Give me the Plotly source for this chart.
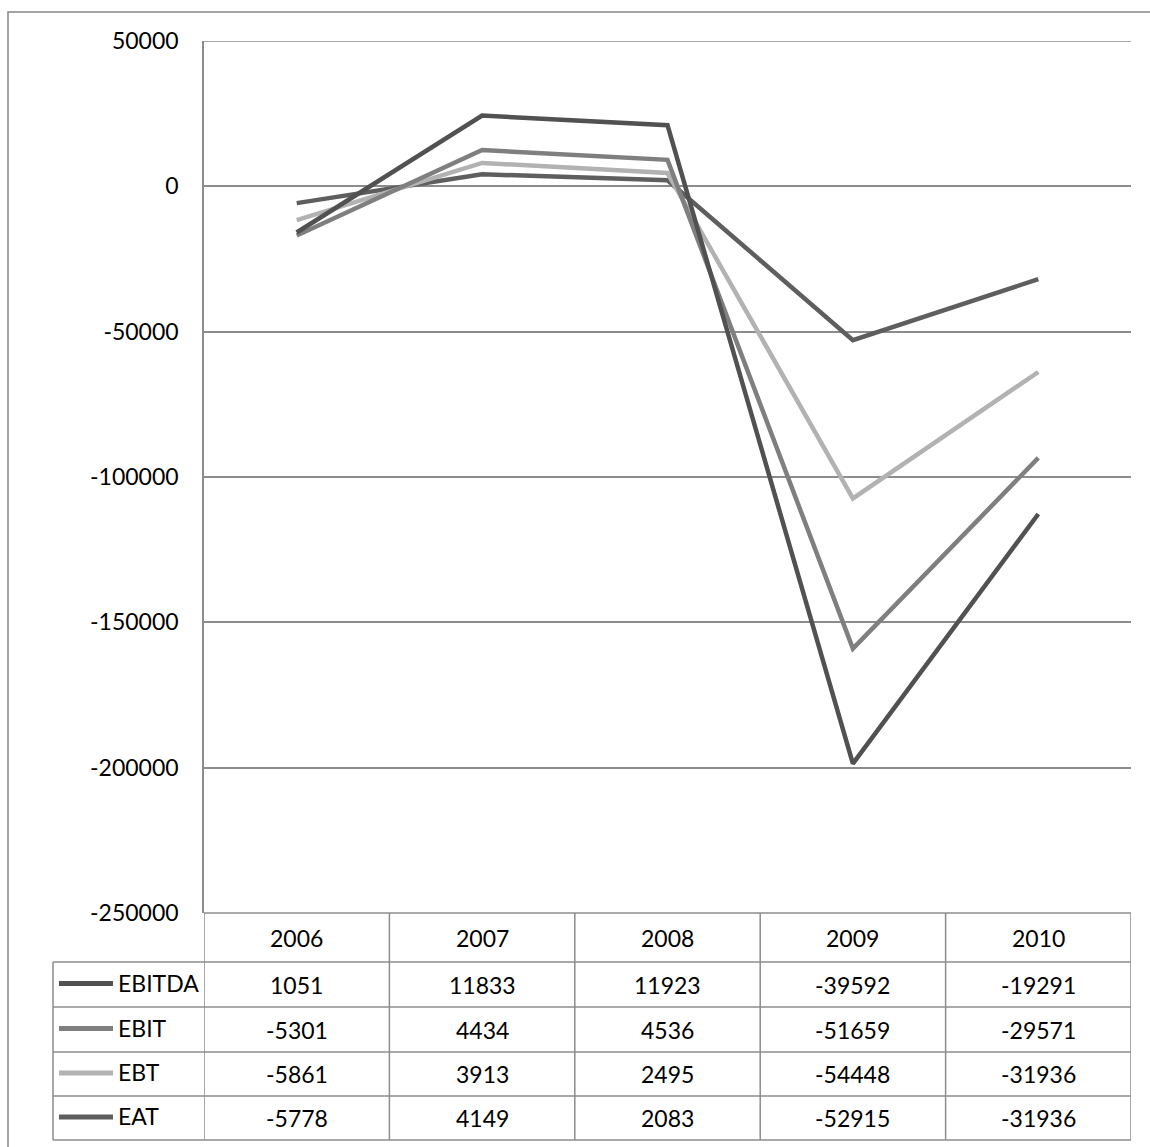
import plotly.graph_objects as go

W, H = 1150, 1147

years = ["2006", "2007", "2008", "2009", "2010"]
series_names = ["EBITDA", "EBIT", "EBT", "EAT"]
ebitda = [1051, 11833, 11923, -39592, -19291]
ebit = [-5301, 4434, 4536, -51659, -29571]
ebt = [-5861, 3913, 2495, -54448, -31936]
eat = [-5778, 4149, 2083, -52915, -31936]
series_colors = ["#515151", "#7f7f7f", "#b2b2b2", "#5e5e5e"]
y_ticks = [50000, 0, -50000, -100000, -150000, -200000, -250000]

values = [ebitda, ebit, ebt, eat]

FONT = "Lato"
GRID = "#8c8c8c"

def py(p):
    return 1 - p / H

def px(p):
    return p / W

fig = go.Figure()

# Stacked lines (Excel stacked-line, stacked from last series upward)
for name, vals, col in reversed(list(zip(series_names, values, series_colors))):
    fig.add_trace(go.Scatter(
        x=years, y=vals, name=name, mode="lines",
        stackgroup="one", fill="none",
        line=dict(color=col, width=4.5),
        showlegend=False,
    ))

plot_left, plot_right, plot_top, plot_bottom = 204, 1131, 41, 913
row_lines = [913, 962, 1007, 1052, 1096, 1140]
table_left = 53

shapes = []
# outer chart border
shapes.append(dict(type="rect", xref="paper", yref="paper",
                   x0=px(8), x1=px(1165), y0=py(1165), y1=py(12),
                   line=dict(color="#868686", width=1.5)))
# top gridline
shapes.append(dict(type="line", xref="paper", yref="y",
                   x0=px(plot_left), x1=px(plot_right), y0=y_ticks[0], y1=y_ticks[0],
                   line=dict(color=GRID, width=1.5), layer="below"))
# table vertical lines (column boundaries via x axis)
for i in range(len(years) + 1):
    shapes.append(dict(type="line", xref="x", yref="paper",
                       x0=i - 0.5, x1=i - 0.5, y0=py(row_lines[0]), y1=py(row_lines[-1]),
                       line=dict(color=GRID, width=1.5)))
# label column left border
shapes.append(dict(type="line", xref="paper", yref="paper",
                   x0=px(table_left), x1=px(table_left), y0=py(row_lines[1]), y1=py(row_lines[-1]),
                   line=dict(color=GRID, width=1.5)))
# horizontal table lines
for j, r in enumerate(row_lines):
    x0 = px(plot_left) if j == 0 else px(table_left)
    shapes.append(dict(type="line", xref="paper", yref="paper",
                       x0=x0, x1=px(plot_right), y0=py(r), y1=py(r),
                       line=dict(color=GRID, width=1.5)))

annotations = []
# header years
hy = (row_lines[0] + row_lines[1]) / 2
for i, yr in enumerate(years):
    annotations.append(dict(x=i, y=py(hy), xref="x", yref="paper", text=yr,
                            showarrow=False, xanchor="center", yanchor="middle",
                            font=dict(family=FONT, size=23, color="black")))
# data rows
for k, (name, vals, col) in enumerate(zip(series_names, values, series_colors)):
    cy = (row_lines[k + 1] + row_lines[k + 2]) / 2
    for i, v in enumerate(vals):
        annotations.append(dict(x=i, y=py(cy), xref="x", yref="paper", text=str(v),
                                showarrow=False, xanchor="center", yanchor="middle",
                                font=dict(family=FONT, size=23, color="black")))
    shapes.append(dict(type="line", xref="paper", yref="paper",
                       x0=px(59), x1=px(113), y0=py(cy - 1), y1=py(cy - 1),
                       line=dict(color=col, width=5)))
    annotations.append(dict(x=px(116), y=py(cy - 2), xref="paper", yref="paper", text=name,
                            showarrow=False, xanchor="left", yanchor="middle",
                            font=dict(family=FONT, size=23, color="black")))

fig.update_layout(
    width=W, height=H,
    margin=dict(l=0, r=0, t=0, b=0, pad=0, autoexpand=False),
    paper_bgcolor="white", plot_bgcolor="white",
    shapes=shapes, annotations=annotations,
    xaxis=dict(domain=[px(plot_left), px(plot_right)], type="category",
               range=[-0.5, len(years) - 0.5], showticklabels=False,
               showgrid=False, zeroline=False, showline=False, ticks="",
               automargin=False),
    yaxis=dict(domain=[py(plot_bottom), py(plot_top)], range=[-250000, 50000],
               tickvals=y_ticks, ticktext=[str(t) for t in y_ticks],
               showgrid=True, gridcolor=GRID, gridwidth=1.5,
               zeroline=False, showline=True, linecolor=GRID, linewidth=1.5,
               ticks="", ticklabelstandoff=19, automargin=False,
               tickfont=dict(family=FONT, size=23, color="black")),
    font=dict(family=FONT),
)

fig.write_html("out.html")
